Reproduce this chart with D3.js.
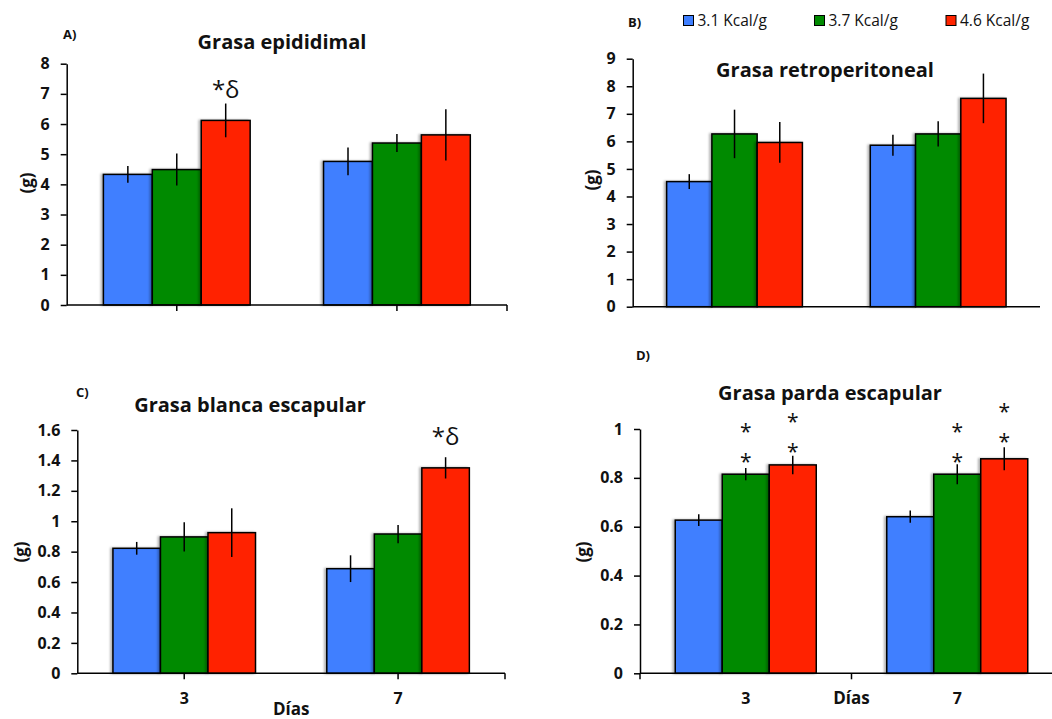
<!DOCTYPE html>
<html>
<head>
<meta charset="utf-8">
<script src="https://cdn.jsdelivr.net/npm/d3@7"></script>
<style>
  html, body { margin: 0; padding: 0; background: #fff; }
  svg { display: block; }
</style>
</head>
<body>
<svg id="chart" width="1052" height="719"></svg>
<script>
// ---- data -------------------------------------------------------------
const dias = ["3", "7"];
const dietas = ["3.1 Kcal/g", "3.7 Kcal/g", "4.6 Kcal/g"];

// means [day][diet] and standard errors, grams
const epididimalMedia = [[4.33, 4.49, 6.12], [4.76, 5.37, 5.64]];
const epididimalError = [[0.28, 0.53, 0.56], [0.46, 0.30, 0.85]];

const retroMedia = [[4.54, 6.27, 5.96], [5.86, 6.27, 7.56]];
const retroError = [[0.27, 0.88, 0.74], [0.38, 0.46, 0.90]];

const blancaMedia = [[0.822, 0.897, 0.925], [0.688, 0.916, 1.351]];
const blancaError = [[0.042, 0.096, 0.160], [0.088, 0.060, 0.070]];

const pardaMedia = [[0.627, 0.815, 0.853], [0.641, 0.815, 0.878]];
const pardaError = [[0.024, 0.025, 0.038], [0.025, 0.041, 0.047]];

const ticksEpididimal = [0, 1, 2, 3, 4, 5, 6, 7, 8];
const ticksRetro = [0, 1, 2, 3, 4, 5, 6, 7, 8, 9];
const ticksBlanca = [0, 0.2, 0.4, 0.6, 0.8, 1, 1.2, 1.4, 1.6];
const ticksParda = [0, 0.2, 0.4, 0.6, 0.8, 1];

// significance marks: [day, diet, value where the mark sits, text]
const marcasEpididimal = [["3", "4.6 Kcal/g", 6.85, "*δ"]];
const marcasBlanca = [["7", "4.6 Kcal/g", 1.502, "*δ"]];
const marcasParda = [
  ["3", "3.7 Kcal/g", 0.884, "*"], ["3", "3.7 Kcal/g", 1.007, "*"],
  ["3", "4.6 Kcal/g", 0.928, "*"], ["3", "4.6 Kcal/g", 1.051, "*"],
  ["7", "3.7 Kcal/g", 0.887, "*"], ["7", "3.7 Kcal/g", 1.010, "*"],
  ["7", "4.6 Kcal/g", 0.966, "*"], ["7", "4.6 Kcal/g", 1.089, "*"]
];

// ---- style ------------------------------------------------------------
const colores = ["#3f7fff", "#008a00", "#ff2400"];
const FONT = "'Open Sans', Lato, sans-serif";

const svg = d3.select("#chart");

const defs = svg.append("defs");
const sombra = defs.append("filter").attr("id", "sombra")
  .attr("x", "-20%").attr("y", "-5%").attr("width", "140%").attr("height", "110%");
sombra.append("feDropShadow").attr("dx", -2).attr("dy", 0)
  .attr("stdDeviation", 1.2).attr("flood-color", "#000").attr("flood-opacity", 0.3);

const color = d3.scaleOrdinal().domain(dietas).range(colores);

function panel(cfg) {
  const g = svg.append("g");
  const y = d3.scaleLinear().domain([0, cfg.ticks[cfg.ticks.length - 1]])
    .range([cfg.bottom, cfg.top]);
  const x = d3.scaleBand().domain(dias).range([cfg.left, cfg.right])
    .paddingInner(1 / 3).paddingOuter(1 / 6);
  const xs = d3.scaleBand().domain(dietas).range([0, x.bandwidth()]);

  // bars
  const rows = [];
  dias.forEach((d, i) => dietas.forEach((s, j) => {
    rows.push({ dia: d, dieta: s, m: cfg.media[i][j], e: cfg.error[i][j] });
  }));
  g.append("g").selectAll("rect").data(rows).join("rect")
    .attr("x", r => x(r.dia) + xs(r.dieta))
    .attr("y", r => y(r.m))
    .attr("width", xs.bandwidth())
    .attr("height", r => y(0) - y(r.m))
    .attr("fill", r => color(r.dieta))
    .attr("stroke", "#000").attr("stroke-width", 1.5)
    .attr("filter", "url(#sombra)");

  // error bars
  g.append("g").selectAll("line").data(rows).join("line")
    .attr("x1", r => x(r.dia) + xs(r.dieta) + xs.bandwidth() / 2)
    .attr("x2", r => x(r.dia) + xs(r.dieta) + xs.bandwidth() / 2)
    .attr("y1", r => y(r.m - r.e))
    .attr("y2", r => y(r.m + r.e))
    .attr("stroke", "#000").attr("stroke-width", 1.5);

  // y axis
  const ya = g.append("g").attr("transform", `translate(${cfg.left},0)`)
    .call(d3.axisLeft(y).tickValues(cfg.ticks).tickFormat(d3.format("~g"))
      .tickSize(6).tickSizeOuter(0).tickPadding(11));
  ya.select(".domain").attr("stroke-width", 1.5);
  ya.selectAll(".tick line").attr("stroke-width", 1.5);
  ya.selectAll("text").attr("font-family", FONT).attr("font-weight", "bold")
    .attr("font-size", 16).attr("fill", "#111");

  // x axis line
  g.append("line").attr("x1", cfg.left).attr("x2", cfg.right)
    .attr("y1", y(0)).attr("y2", y(0))
    .attr("stroke", "#000").attr("stroke-width", 1.5);

  let tickXs = [];
  if (cfg.xTicks === "center") {
    tickXs = dias.map(d => x(d) + x.bandwidth() / 2).concat([cfg.right]);
  } else if (cfg.xTicks === "between") {
    tickXs = [cfg.left].concat(dias.map(d => x(d) - x.step() * x.paddingInner() / 2 + x.step()));
  }
  g.append("g").selectAll("line").data(tickXs).join("line")
    .attr("x1", d => d).attr("x2", d => d)
    .attr("y1", y(0)).attr("y2", y(0) + 6)
    .attr("stroke", "#000").attr("stroke-width", 1.5);

  if (cfg.xLabels) {
    g.append("g").selectAll("text").data(dias).join("text")
      .attr("x", d => x(d) + x.bandwidth() / 2)
      .attr("y", y(0) + 31)
      .attr("text-anchor", "middle")
      .attr("font-family", FONT).attr("font-weight", "bold").attr("font-size", 16)
      .attr("fill", "#111")
      .text(d => d);
    const dx = cfg.xTicks === "between" ? tickXs[1] : (cfg.left + cfg.right) / 2;
    g.append("text")
      .attr("x", dx)
      .attr("y", y(0) + cfg.diasDy)
      .attr("text-anchor", "middle")
      .attr("font-family", FONT).attr("font-weight", "bold").attr("font-size", 17)
      .attr("fill", "#111")
      .text("Días");
  }

  // y label
  g.append("text")
    .attr("transform", `translate(${cfg.yLabelX},${cfg.yLabelY}) rotate(-90)`)
    .attr("text-anchor", "middle")
    .attr("font-family", FONT).attr("font-weight", "bold").attr("font-size", 17)
    .attr("fill", "#111")
    .text("(g)");

  // title
  g.append("text")
    .attr("x", cfg.titleX).attr("y", cfg.titleY)
    .attr("text-anchor", "middle")
    .attr("font-family", FONT).attr("font-weight", "bold").attr("font-size", 20)
    .attr("fill", "#111")
    .text(cfg.title);

  // panel letter
  g.append("text")
    .attr("x", cfg.letterX).attr("y", cfg.letterY)
    .attr("font-family", FONT).attr("font-weight", "bold").attr("font-size", 13)
    .attr("fill", "#111")
    .text(cfg.letter);

  // significance marks: single asterisks are centred on their value,
  // "*δ" sits with its baseline on the value
  g.append("g").selectAll("text").data(cfg.marcas || []).join("text")
    .attr("x", m => x(m[0]) + xs(m[1]) + xs.bandwidth() / 2)
    .attr("y", m => y(m[2]))
    .attr("dy", m => m[3] === "*" ? "0.57em" : 0)
    .attr("text-anchor", "middle")
    .attr("font-family", FONT).attr("font-size", m => m[3] === "*" ? 21 : 24)
    .attr("fill", "#111")
    .text(m => m[3]);
}

panel({
  media: epididimalMedia, error: epididimalError, ticks: ticksEpididimal,
  left: 66.7, right: 507, bottom: 305, top: 63.7,
  xTicks: "center", xLabels: false,
  title: "Grasa epididimal", titleX: 282, titleY: 49,
  letter: "A)", letterX: 63, letterY: 39,
  yLabelX: 33, yLabelY: 183, marcas: marcasEpididimal
});

panel({
  media: retroMedia, error: retroError, ticks: ticksRetro,
  left: 632.7, right: 1040, bottom: 306.7, top: 58.7,
  xTicks: "none", xLabels: false,
  title: "Grasa retroperitoneal", titleX: 825, titleY: 77,
  letter: "B)", letterX: 628, letterY: 27,
  yLabelX: 598, yLabelY: 180
});

panel({
  media: blancaMedia, error: blancaError, ticks: ticksBlanca,
  left: 77.3, right: 505, bottom: 673.3, top: 430,
  xTicks: "center", xLabels: true, diasDy: 42,
  title: "Grasa blanca escapular", titleX: 250, titleY: 412,
  letter: "C)", letterX: 76, letterY: 397,
  yLabelX: 27, yLabelY: 552, marcas: marcasBlanca
});

panel({
  media: pardaMedia, error: pardaError, ticks: ticksParda,
  left: 640, right: 1063, bottom: 673.3, top: 429,
  xTicks: "between", xLabels: true, diasDy: 31,
  title: "Grasa parda escapular", titleX: 830, titleY: 400,
  letter: "D)", letterX: 636, letterY: 360,
  yLabelX: 589, yLabelY: 552, marcas: marcasParda
});

// legend
const legendX = [683.5, 814.5, 946];
const ley = svg.append("g").selectAll("g").data(dietas).join("g")
  .attr("transform", (d, i) => `translate(${legendX[i]},15.5)`);
ley.append("rect").attr("width", 10).attr("height", 10)
  .attr("fill", d => color(d)).attr("stroke", "#000").attr("stroke-width", 1);
ley.append("text").attr("x", 14).attr("y", 10.5)
  .attr("font-family", FONT).attr("font-size", 15.5).attr("fill", "#111")
  .text(d => d);
</script>
</body>
</html>
